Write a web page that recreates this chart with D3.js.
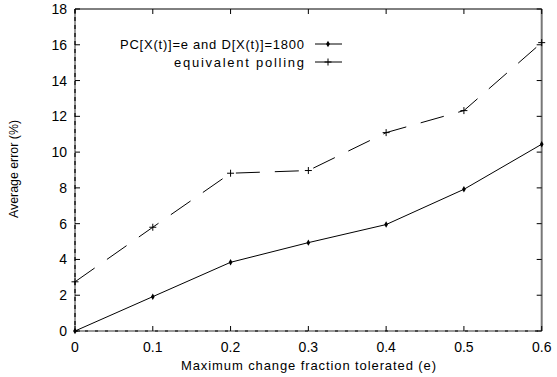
<!DOCTYPE html>
<html lang="en">
<head>
<meta charset="UTF-8">
<title>Average error</title>
<script src="https://d3js.org/d3.v7.min.js"></script>
<style>
    body { margin: 0; background: #fff; }
    text { font-family: "Liberation Sans", Arial, sans-serif; font-size: 13px; fill: #000; }
    .tick-label { font-size: 14px; }
</style>
</head>
<body>
<div id="chart"></div>
<script>
    // values
    var fractions = [0, 0.1, 0.2, 0.3, 0.4, 0.5, 0.6];
    var pcError = [0, 1.92, 3.84, 4.94, 5.95, 7.92, 10.44];
    var pollingError = [2.75, 5.8, 8.82, 8.97, 11.09, 12.32, 16.12];
    var xTicks = [0, 0.1, 0.2, 0.3, 0.4, 0.5, 0.6];
    var yTicks = [0, 2, 4, 6, 8, 10, 12, 14, 16, 18];
    var seriesNames = ["PC[X(t)]=e and D[X(t)]=1800", "equivalent polling"];

    var width = 557, height = 377;
    var plot = { left: 75, right: 541.7, top: 9, bottom: 331 };

    var svg = d3.select("#chart").append("svg")
        .attr("width", width)
        .attr("height", height);

    var x = d3.scaleLinear().domain([0, 0.6]).range([plot.left, plot.right]);
    var y = d3.scaleLinear().domain([0, 18]).range([plot.bottom, plot.top]);

    // frame
    svg.append("line").attr("x1", plot.left).attr("x2", plot.right).attr("y1", plot.top).attr("y2", plot.top)
        .style("stroke", "#000").style("stroke-width", 1);
    svg.append("line").attr("x1", plot.right).attr("x2", plot.right).attr("y1", plot.top).attr("y2", plot.bottom)
        .style("stroke", "#777").style("stroke-width", 2);
    svg.append("line").attr("x1", plot.left).attr("x2", plot.left).attr("y1", plot.top).attr("y2", plot.bottom)
        .style("stroke", "#777").style("stroke-width", 1.5);
    svg.append("line").attr("x1", plot.left).attr("x2", plot.right).attr("y1", plot.bottom).attr("y2", plot.bottom)
        .style("stroke", "#777").style("stroke-width", 1.5);
    // darker dashes over the left and bottom axis, like the scanned look
    svg.append("line").attr("x1", plot.left).attr("x2", plot.left).attr("y1", plot.top).attr("y2", plot.bottom)
        .style("stroke", "#000").style("stroke-width", 1.2).style("stroke-dasharray", "4,4");
    svg.append("line").attr("x1", plot.left).attr("x2", plot.right).attr("y1", plot.bottom).attr("y2", plot.bottom)
        .style("stroke", "#000").style("stroke-width", 1.2).style("stroke-dasharray", "3,7");

    // ticks on all four sides, pointing inward
    var tickLen = 5;
    var ticks = svg.append("g").style("stroke", "#000").style("stroke-width", 1);
    xTicks.forEach(function(t) {
        ticks.append("line").attr("x1", x(t)).attr("x2", x(t)).attr("y1", plot.bottom).attr("y2", plot.bottom - tickLen);
        ticks.append("line").attr("x1", x(t)).attr("x2", x(t)).attr("y1", plot.top).attr("y2", plot.top + tickLen);
    });
    yTicks.forEach(function(t) {
        ticks.append("line").attr("x1", plot.left).attr("x2", plot.left + tickLen).attr("y1", y(t)).attr("y2", y(t));
        ticks.append("line").attr("x1", plot.right).attr("x2", plot.right - tickLen).attr("y1", y(t)).attr("y2", y(t));
    });

    // tick labels
    svg.append("g").selectAll("text").data(xTicks).enter().append("text")
        .attr("class", "tick-label")
        .attr("x", function(d) { return x(d); })
        .attr("y", 352)
        .attr("text-anchor", "middle")
        .text(function(d) { return d === 0 ? "0" : d3.format(".1f")(d); });

    svg.append("g").selectAll("text").data(yTicks).enter().append("text")
        .attr("class", "tick-label")
        .attr("x", 67)
        .attr("y", function(d) { return y(d) + 5; })
        .attr("text-anchor", "end")
        .text(function(d) { return d; });

    // axis titles
    svg.append("text")
        .attr("x", 181)
        .attr("y", 370)
        .attr("textLength", 255)
        .attr("lengthAdjust", "spacing")
        .text("Maximum change fraction tolerated (e)");

    svg.append("text")
        .attr("transform", "translate(18,218) rotate(-90)")
        .attr("textLength", 98)
        .attr("lengthAdjust", "spacingAndGlyphs")
        .text("Average error (%)");

    // series
    var line = d3.line()
        .x(function(d) { return x(d[0]); })
        .y(function(d) { return y(d[1]); });

    var pcData = d3.zip(fractions, pcError);
    var pollData = d3.zip(fractions, pollingError);

    svg.append("path")
        .datum(pcData)
        .attr("d", line)
        .style("fill", "none")
        .style("stroke", "#000")
        .style("stroke-width", 1);

    svg.append("path")
        .datum(pollData)
        .attr("d", line)
        .style("fill", "none")
        .style("stroke", "#000")
        .style("stroke-width", 1)
        .style("stroke-dasharray", "24,15");

    var diamond = d3.symbol().type(d3.symbolDiamond).size(12);
    var drawDiamond = function(g, cx, cy) {
        g.append("path").attr("d", diamond())
            .attr("transform", "translate(" + cx + "," + cy + ")")
            .style("fill", "#000");
    };
    var drawPlus = function(g, cx, cy) {
        g.append("path")
            .attr("d", "M" + (cx - 3.5) + "," + cy + "H" + (cx + 3.5) + "M" + cx + "," + (cy - 3.5) + "V" + (cy + 3.5))
            .style("stroke", "#000").style("stroke-width", 1);
    };

    var marks = svg.append("g");
    pcData.forEach(function(d) { drawDiamond(marks, x(d[0]), y(d[1])); });
    pollData.forEach(function(d) { drawPlus(marks, x(d[0]), y(d[1])); });

    // legend
    var legendRows = [44, 62];
    var legend = svg.append("g");
    seriesNames.forEach(function(name, i) {
        legend.append("text")
            .attr("x", 304)
            .attr("y", legendRows[i] + 4.6)
            .attr("text-anchor", "end")
            .attr("textLength", i === 0 ? 184 : 130)
            .attr("lengthAdjust", "spacing")
            .text(name);
        legend.append("line")
            .attr("x1", 315).attr("x2", 342)
            .attr("y1", legendRows[i]).attr("y2", legendRows[i])
            .style("stroke", "#000").style("stroke-width", 1);
        if (i === 0) drawDiamond(legend, 328, legendRows[i]);
        else drawPlus(legend, 328, legendRows[i]);
    });
</script>
</body>
</html>
